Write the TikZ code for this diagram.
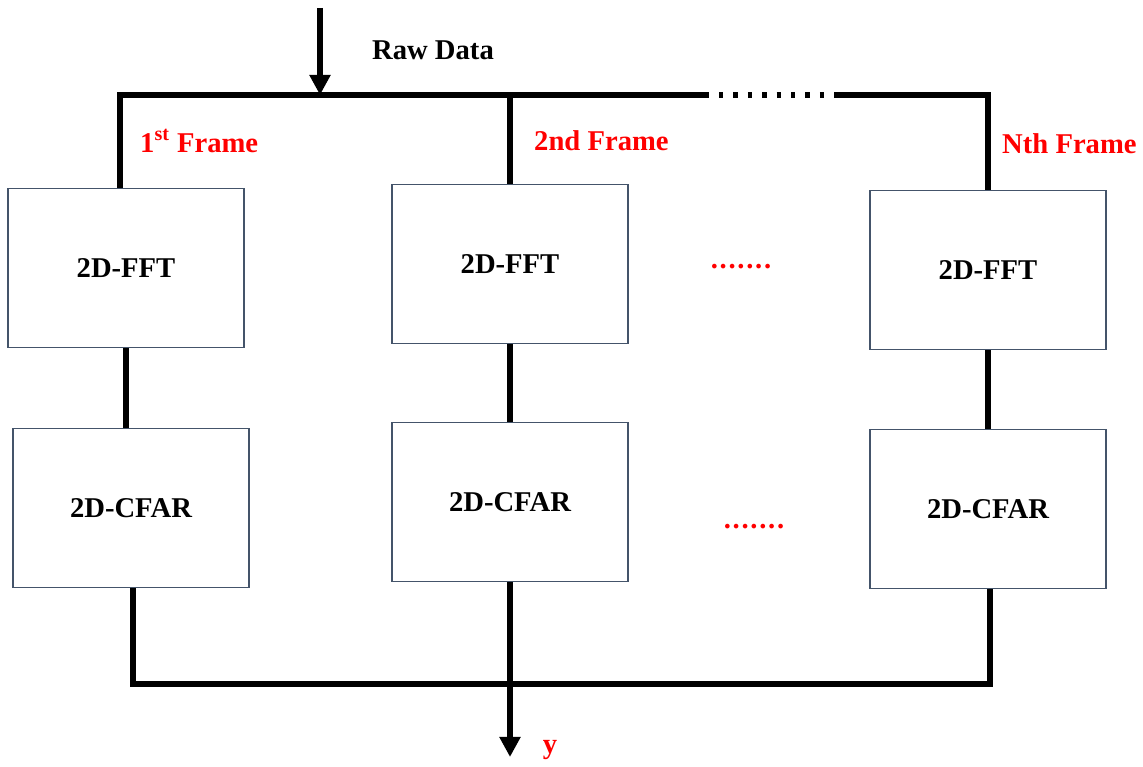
\documentclass[tikz,border=0pt]{standalone}
\usepackage{fontspec}
\setmainfont{Liberation Serif}
\usepackage{tikz}
\usetikzlibrary{arrows.meta,calc,positioning}
\definecolor{boxedge}{RGB}{68,84,106}

\begin{document}
\begin{tikzpicture}[x=.02cm,y=-.02cm,font=\fontsize{16.3}{19}\selectfont\bfseries,
    stage/.style={draw=boxedge,line width=.8pt,minimum width=4.72cm,minimum height=3.18cm,inner sep=0pt},
    bus/.style={line width=3.2pt},
    flow/.style={bus,-{Triangle[width=11.5pt,length=11.5pt]}},
    redtxt/.style={text=red}]
    \useasboundingbox (0,0) rectangle (1143,767);
    \foreach \i/\fx/\fy/\cx/\cy in {1/126/268/131/508,2/510/264/510/502,3/988/270/988/509} {
      \node[stage] (fft\i) at (\fx,\fy) {2D-FFT};
      \node[stage] (cfar\i) at (\cx,\cy) {2D-CFAR};
      \draw[bus] (fft\i.south) -- (fft\i.south |- cfar\i.north);
    }
    \coordinate (topL) at (120,95);
    \coordinate (topR) at (988,95);
    \coordinate (gapL) at (709,95);
    \coordinate (gapR) at (834,95);
    \coordinate (feed) at (320,95);
    \coordinate (src) at (320,8);
    \coordinate (botL) at (133,684);
    \coordinate (botR) at (990,684);
    \coordinate (out) at (510,757);
    \draw[flow] (src) -- (feed);
    \draw[bus] (topL |- fft1.north) -- (topL) -- (gapL);
    \draw[bus,dash pattern=on 2.5pt off 5.7pt,dash phase=2.5pt] (gapL) -- (gapR);
    \draw[bus] (gapR) -- (topR) -- (topR |- fft3.north);
    \draw[bus] (fft2.north |- topL) -- (fft2.north);
    \draw[bus] (botL |- cfar1.south) -- (botL) -- (botR) -- (botR |- cfar3.south);
    \draw[flow] (cfar2.south) -- (out);
    \node (raw) at (433,50) {Raw Data};
    \node[redtxt,anchor=west] (lab1) at (134,141) {1\textsuperscript{st} Frame};
    \node[redtxt,anchor=west] (lab2) at (528,141) {2nd Frame};
    \node[redtxt,anchor=west] (lab3) at (996,144) {Nth Frame};
    \node[redtxt] (outy) at (550,750) {y};
    \node[redtxt,anchor=base] (dots1) at (741,268) {\addfontfeature{LetterSpace=6}.......};
    \node[redtxt,anchor=base] (dots2) at (754,528) {\addfontfeature{LetterSpace=6}.......};
\end{tikzpicture}
\end{document}
